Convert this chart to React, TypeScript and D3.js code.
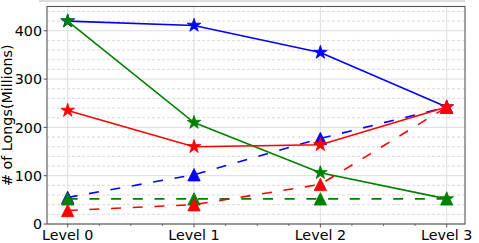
import React from "react";
import * as d3 from "d3";

const levels = ["Level 0", "Level 1", "Level 2", "Level 3"];
const yTicks = [0, 100, 200, 300, 400];

const blueSolid = [420, 411, 355, 242];
const blueDashed = [55, 102, 177, 242];
const greenSolid = [420, 210, 106, 52];
const greenDashed = [52, 52, 52, 52];
const redSolid = [235, 160, 164, 242];
const redDashed = [28, 40, 82, 242];

const series = [
  { values: blueSolid, color: "#0000ff", dashed: false, marker: "star" },
  { values: blueDashed, color: "#0000ff", dashed: true, marker: "tri" },
  { values: greenSolid, color: "#008000", dashed: false, marker: "star" },
  { values: greenDashed, color: "#008000", dashed: true, marker: "tri" },
  { values: redSolid, color: "#ff0000", dashed: false, marker: "star" },
  { values: redDashed, color: "#ff0000", dashed: true, marker: "tri" },
];

export default function App() {
  const W = 479, H = 243;
  const left = 47, right = 465, top = 6.5, bottom = 224;
  const x = d3.scaleLinear().domain([0, 3]).range([67.7, 446.7]);
  const y = d3.scaleLinear().domain([0, 450]).range([bottom, 6.6]);
  const minorY = d3.range(0, 451, 20).filter((v) => v % 100 !== 0);
  const minorX = d3.range(-0.25, 3.26, 0.25).filter((v) => Math.abs(v - Math.round(v)) > 0.01 && x(v) > left && x(v) < right);
  const line = d3.line<number>().x((_, i) => x(i)).y((d) => y(d));
  const star = d3.symbol().type(d3.symbolStar).size(58)();
  const s = 6.2;
  const tri = `M0,${-s}L${s},${s}L${-s},${s}Z`;
  const font = "DejaVu Sans, sans-serif";

  return (
    <svg width={W} height={H} style={{ display: "block", position: "absolute", left: 0, top: 0 }}>
      <rect x={0} y={0} width={W} height={H} fill="#fff" />
      <rect x={39} y={0} width={426} height={2} fill="#dddddd" />
      {minorY.map((v) => (
        <line key={"my" + v} x1={left} x2={right} y1={y(v)} y2={y(v)} stroke="#d6d6d6" strokeWidth={0.9} strokeDasharray="3,2" />
      ))}
      {yTicks.map((v) => (
        <line key={"gy" + v} x1={left} x2={right} y1={y(v)} y2={y(v)} stroke="#dddddd" strokeWidth={1} />
      ))}
      {levels.map((l, i) => (
        <line key={"gx" + l} x1={x(i)} x2={x(i)} y1={top} y2={bottom} stroke="#dddddd" strokeWidth={1} />
      ))}
      {series.map((se, si) => (
        <g key={si}>
          <path d={line(se.values) || ""} fill="none" stroke={se.color} strokeWidth={1.6} strokeDasharray={se.dashed ? "10,11.7" : undefined} />
          {se.values.map((v, i) => (
            <path key={i} d={se.marker === "star" ? star : tri} transform={`translate(${x(i)},${y(v)})`} fill={se.color} stroke={se.color} strokeWidth={0.8} strokeLinejoin="round" />
          ))}
        </g>
      ))}
      <rect x={left} y={top} width={right - left} height={bottom - top} fill="none" stroke="#555" strokeWidth={1.1} />
      {yTicks.map((v) => (
        <g key={"ty" + v}>
          <line x1={left - 3.5} x2={left} y1={y(v)} y2={y(v)} stroke="#555" strokeWidth={1} />
          <text x={left - 5} y={y(v)} dy="0.36em" textAnchor="end" fontFamily={font} fontSize={14.3} fill="#000">{v}</text>
        </g>
      ))}
      {levels.map((l, i) => (
        <g key={"tx" + l}>
          <line x1={x(i)} x2={x(i)} y1={bottom} y2={bottom + 3.5} stroke="#555" strokeWidth={1} />
          <text x={x(i)} y={240} textAnchor="middle" fontFamily={font} fontSize={14.3} fill="#000">{l}</text>
        </g>
      ))}
      {minorX.map((v) => (
        <line key={"mx" + v} x1={x(v)} x2={x(v)} y1={bottom} y2={bottom + 2} stroke="#555" strokeWidth={0.8} />
      ))}
      <text transform={`translate(12,${(top + bottom) / 2}) rotate(-90)`} textAnchor="middle" fontFamily={font} fontSize={14.3} fill="#000">
        # of Longs(Millions)
      </text>
    </svg>
  );
}
